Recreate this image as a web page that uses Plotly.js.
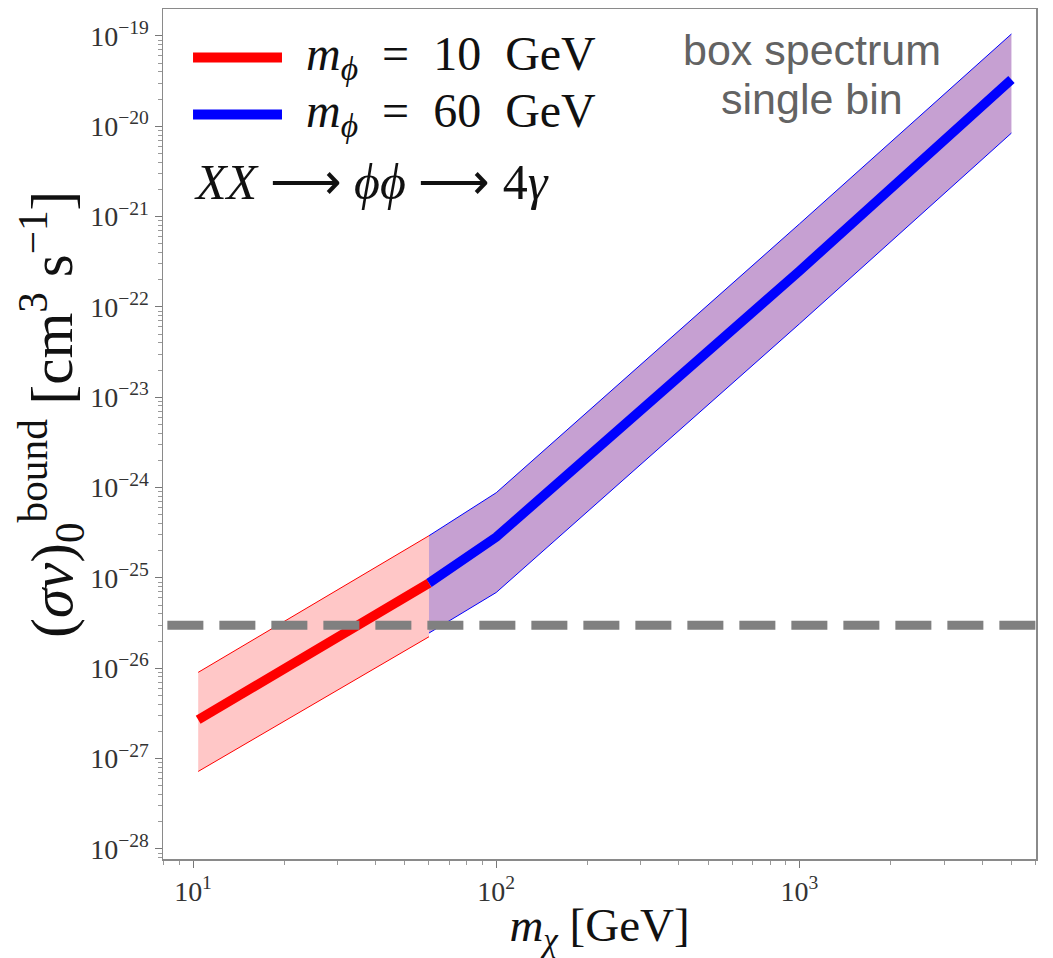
<!DOCTYPE html>
<html>
<head>
<meta charset="utf-8">
<script src="https://cdn.plot.ly/plotly-3.0.1.min.js"></script>
<style>
  html, body { margin: 0; padding: 0; background: #ffffff; }
  #chart { width: 1053px; height: 958px; }
</style>
</head>
<body>
<div id="chart"></div>
<script>
// ---- data ----
const xRed = [10.4, 60];
const redCenter = [2.69e-27, 8.77e-26];
const redUpper = [9.0e-27, 2.93e-25];
const redLower = [7.2e-28, 2.23e-26];

const xBlue = [60, 100, 1000, 5000];
const blueCenter = [8.77e-26, 2.83e-25, 2.5e-22, 3.3e-20];
const blueUpper = [2.93e-25, 8.77e-25, 8.3e-22, 1.05e-19];
const blueLower = [2.45e-26, 6.9e-26, 6.5e-23, 8.4e-21];

const relicX = [8.23, 6030];
const relicValue = 3e-26;

const yTickVals = [1e-28, 1e-27, 1e-26, 1e-25, 1e-24, 1e-23, 1e-22, 1e-21, 1e-20, 1e-19];
const yTickText = ['10<sup>−28</sup>', '10<sup>−27</sup>', '10<sup>−26</sup>', '10<sup>−25</sup>',
  '10<sup>−24</sup>', '10<sup>−23</sup>', '10<sup>−22</sup>', '10<sup>−21</sup>',
  '10<sup>−20</sup>', '10<sup>−19</sup>'];
const xTickVals = [10, 100, 1000];
const xTickText = ['10<sup>1</sup>', '10<sup>2</sup>', '10<sup>3</sup>'];

const legendLabels = ['<i>m</i><sub><i>ϕ</i></sub>  =  10  GeV', '<i>m</i><sub><i>ϕ</i></sub>  =  60  GeV'];
const processLabel = '<i>XX</i> ⟶ <i>ϕϕ</i> ⟶ 4<i>γ</i>';
const boxLines = ['box spectrum', 'single bin'];
const yTitle = '(<i>σv</i>)<sub>0</sub><sup>bound</sup> [cm<sup>3</sup> s<sup>−1</sup>]';
const xTitle = '<i>m</i><sub><i>χ</i></sub> [GeV]';

// ---- styles ----
const RED = '#ff0000', BLUE = '#0000ff';
const PINK = 'rgba(255,0,0,0.22)';
const PURPLE = '#c6a0d2';
const serif = 'Liberation Serif, Times New Roman, serif';
const sans = 'Liberation Sans, Arial, sans-serif';

const traces = [
  { x: xRed, y: redLower, mode: 'lines', line: { color: RED, width: 1 }, showlegend: false, hoverinfo: 'skip' },
  { x: xRed, y: redUpper, mode: 'lines', line: { color: RED, width: 1 }, fill: 'tonexty', fillcolor: PINK, showlegend: false, hoverinfo: 'skip' },
  { x: xBlue, y: blueLower, mode: 'lines', line: { color: BLUE, width: 1 }, showlegend: false, hoverinfo: 'skip' },
  { x: xBlue, y: blueUpper, mode: 'lines', line: { color: BLUE, width: 1 }, fill: 'tonexty', fillcolor: PURPLE, showlegend: false, hoverinfo: 'skip' },
  { x: xRed, y: redCenter, mode: 'lines', line: { color: RED, width: 9.5 }, showlegend: false },
  { x: xBlue, y: blueCenter, mode: 'lines', line: { color: BLUE, width: 9.5 }, showlegend: false },
  { x: relicX, y: [relicValue, relicValue], mode: 'lines', line: { color: '#808080', width: 9, dash: '36px,16px' }, showlegend: false }
];

const layout = {
  width: 1053, height: 958,
  margin: { l: 163, r: 17, t: 9, b: 99 },
  paper_bgcolor: '#ffffff', plot_bgcolor: '#ffffff',
  showlegend: false,
  xaxis: {
    type: 'log', range: [0.901, 3.780],
    tickmode: 'array', tickvals: xTickVals, ticktext: xTickText,
    ticks: 'outside', ticklen: 7, tickcolor: '#777', tickwidth: 1,
    minor: { ticks: 'outside', ticklen: 4, tickcolor: '#999', dtick: 'D1', showgrid: false },
    showgrid: false, zeroline: false,
    showline: true, mirror: true, linecolor: '#8a8a8a', linewidth: 1.5,
    tickfont: { family: serif, size: 28, color: '#333' },
    title: { text: xTitle, font: { family: serif, size: 47, color: '#111' }, standoff: 6 }
  },
  yaxis: {
    type: 'log', range: [-28.112, -18.702],
    tickmode: 'array', tickvals: yTickVals, ticktext: yTickText,
    ticks: 'outside', ticklen: 7, tickcolor: '#777', tickwidth: 1,
    minor: { ticks: 'outside', ticklen: 4, tickcolor: '#999', dtick: 'D1', showgrid: false },
    showgrid: false, zeroline: false,
    showline: true, mirror: true, linecolor: '#8a8a8a', linewidth: 1.5,
    tickfont: { family: serif, size: 28, color: '#333' },
    title: { text: '' }
  },
  shapes: [
    { type: 'line', xref: 'paper', yref: 'paper', x0: 0.0344, x1: 0.1363, y0: 0.943, y1: 0.943, line: { color: RED, width: 10 } },
    { type: 'line', xref: 'paper', yref: 'paper', x0: 0.0344, x1: 0.1363, y0: 0.876, y1: 0.876, line: { color: BLUE, width: 10 } }
  ],
  annotations: [
    { xref: 'paper', yref: 'paper', x: -0.128, y: 0.523, xanchor: 'center', yanchor: 'middle', textangle: -90, showarrow: false,
      text: yTitle, font: { family: serif, size: 59, color: '#111' } },
    { xref: 'paper', yref: 'paper', x: 0.161, y: 0.943, xanchor: 'left', yanchor: 'middle', showarrow: false,
      text: legendLabels[0], font: { family: serif, size: 48, color: '#111' } },
    { xref: 'paper', yref: 'paper', x: 0.161, y: 0.876, xanchor: 'left', yanchor: 'middle', showarrow: false,
      text: legendLabels[1], font: { family: serif, size: 48, color: '#111' } },
    { xref: 'paper', yref: 'paper', x: 0.033, y: 0.797, xanchor: 'left', yanchor: 'middle', showarrow: false,
      text: processLabel, font: { family: serif, size: 50, color: '#111' } },
    { xref: 'paper', yref: 'paper', x: 0.743, y: 0.952, xanchor: 'center', yanchor: 'middle', showarrow: false,
      text: boxLines[0], font: { family: sans, size: 43, color: '#636363' } },
    { xref: 'paper', yref: 'paper', x: 0.743, y: 0.894, xanchor: 'center', yanchor: 'middle', showarrow: false,
      text: boxLines[1], font: { family: sans, size: 43, color: '#636363' } }
  ]
};

Plotly.newPlot('chart', traces, layout, { staticPlot: true, displayModeBar: false });
</script>
</body>
</html>
